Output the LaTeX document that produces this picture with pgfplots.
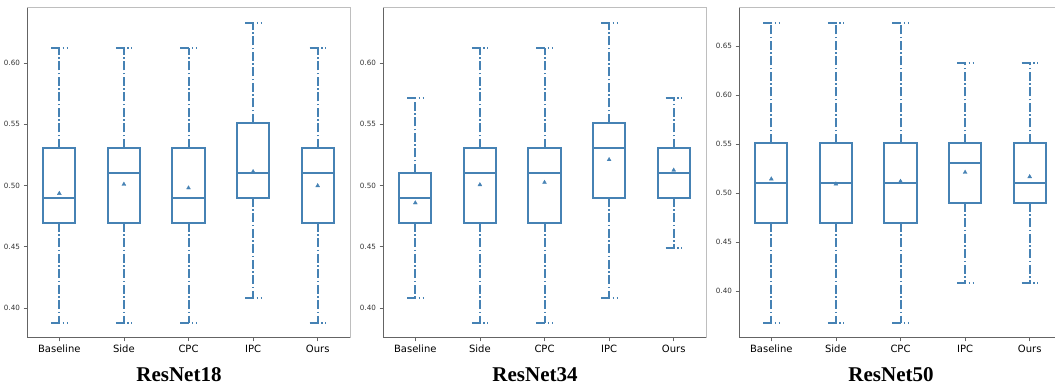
\documentclass[border=0pt]{standalone}
\usepackage{pgfplots}
\pgfplotsset{compat=1.18}
\usepackage{fontspec}
\setmainfont{DejaVu Sans}
\newfontfamily\titlefont{Liberation Serif}
\definecolor{boxc}{RGB}{70,130,180}
\definecolor{spdark}{RGB}{100,100,100}
\definecolor{splight}{RGB}{190,190,190}

\pgfplotsset{
  panel/.style={
    scale only axis, width=323pt, height=330pt,
    anchor=south west,
    xmin=0.5, xmax=5.5,
    xtick={1,2,3,4,5},
    xticklabels={Baseline,Side,CPC,IPC,Ours},
    tick align=outside, xtick pos=bottom, ytick pos=left,
    major tick length=3.5pt,
    tick style={spdark, line width=0.6pt},
    axis line style={draw=none},
    /pgf/number format/assume math mode=true,
    yticklabel style={font=\fontsize{7.2}{8}\selectfont, text=black!80,
      /pgf/number format/fixed, /pgf/number format/fixed zerofill, /pgf/number format/precision=2},
    xticklabel style={font=\fontsize{10}{12}\selectfont, text=black},
    clip=false,
  },
  boxst/.style={draw=boxc, line width=2pt, mark=none, line join=miter, solid},
  whisk/.style={draw=boxc, line width=2pt, mark=none, line cap=butt,
    dash pattern=on 9pt off 2.5pt on 1.5pt off 2.5pt},
  meanst/.style={only marks, mark=triangle*, mark size=2.3pt,
    mark options={solid, line width=0.3pt, fill=boxc, draw=boxc}},
}
% #1 position, #2 lower whisker, #3 lower quartile, #4 median, #5 upper quartile, #6 upper whisker, #7 mean
\newcommand{\bx}[7]{%
  \pgfmathsetmacro\xl{#1-0.25}\pgfmathsetmacro\xr{#1+0.25}%
  \pgfmathsetmacro\cl{#1-0.125}\pgfmathsetmacro\cr{#1+0.125}%
  \addplot[whisk] coordinates {(#1,#5) (#1,#6)};
  \addplot[whisk] coordinates {(#1,#3) (#1,#2)};
  \addplot[whisk] coordinates {(\cl,#6) (\cr,#6)};
  \addplot[whisk] coordinates {(\cl,#2) (\cr,#2)};
  \addplot[boxst] coordinates {(\xl,#3) (\xr,#3) (\xr,#5) (\xl,#5)} -- cycle;
  \addplot[boxst] coordinates {(\xl,#4) (\xr,#4)};
  \addplot[meanst] coordinates {(#1,#7)};
}
\newcommand{\spines}{%
  \draw[splight, line width=1pt] (rel axis cs:0,1) -- (rel axis cs:1,1) -- (rel axis cs:1,0);
  \draw[spdark, line width=1pt] (rel axis cs:0,1) -- (rel axis cs:0,0) -- (rel axis cs:1,0);
}
\newcommand{\paneltitle}[1]{%
  \node[font=\titlefont\bfseries\fontsize{21}{24}\selectfont, anchor=base, xshift=-9.5pt, yshift=-43.7pt] at (rel axis cs:0.5,0) {#1};
}

\begin{document}
\begin{tikzpicture}
% ---------------- ResNet18 ----------------
\begin{axis}[panel, at={(27pt,52pt)}, ymin=0.37551, ymax=0.64490,
  ytick={0.40,0.45,0.50,0.55,0.60}]
\bx{1}{0.387755}{0.469388}{0.489796}{0.530612}{0.612245}{0.4935}
\bx{2}{0.387755}{0.469388}{0.510204}{0.530612}{0.612245}{0.5010}
\bx{3}{0.387755}{0.469388}{0.489796}{0.530612}{0.612245}{0.4980}
\bx{4}{0.408163}{0.489796}{0.510204}{0.551020}{0.632653}{0.5113}
\bx{5}{0.387755}{0.469388}{0.510204}{0.530612}{0.612245}{0.4998}
\spines
\paneltitle{ResNet18}
\end{axis}
% ---------------- ResNet34 ----------------
\begin{axis}[panel, at={(383pt,52pt)}, ymin=0.37551, ymax=0.64490,
  ytick={0.40,0.45,0.50,0.55,0.60}]
\bx{1}{0.408163}{0.469388}{0.489796}{0.510204}{0.571429}{0.4858}
\bx{2}{0.387755}{0.469388}{0.510204}{0.530612}{0.612245}{0.5006}
\bx{3}{0.387755}{0.469388}{0.510204}{0.530612}{0.612245}{0.5025}
\bx{4}{0.408163}{0.489796}{0.530612}{0.551020}{0.632653}{0.5211}
\bx{5}{0.448980}{0.489796}{0.510204}{0.530612}{0.571429}{0.5125}
\spines
\paneltitle{ResNet34}
\end{axis}
% ---------------- ResNet50 ----------------
\begin{axis}[panel, at={(739pt,52pt)}, ymin=0.35204, ymax=0.68878,
  ytick={0.40,0.45,0.50,0.55,0.60,0.65}]
\bx{1}{0.367347}{0.469388}{0.510204}{0.551020}{0.673469}{0.5143}
\bx{2}{0.367347}{0.469388}{0.510204}{0.551020}{0.673469}{0.5092}
\bx{3}{0.367347}{0.469388}{0.510204}{0.551020}{0.673469}{0.5119}
\bx{4}{0.408163}{0.489796}{0.530612}{0.551020}{0.632653}{0.5211}
\bx{5}{0.408163}{0.489796}{0.510204}{0.551020}{0.632653}{0.5166}
\spines
\paneltitle{ResNet50}
\end{axis}
\pgfresetboundingbox
\useasboundingbox (0pt,0pt) rectangle (1055pt,390pt);
\end{tikzpicture}
\end{document}
